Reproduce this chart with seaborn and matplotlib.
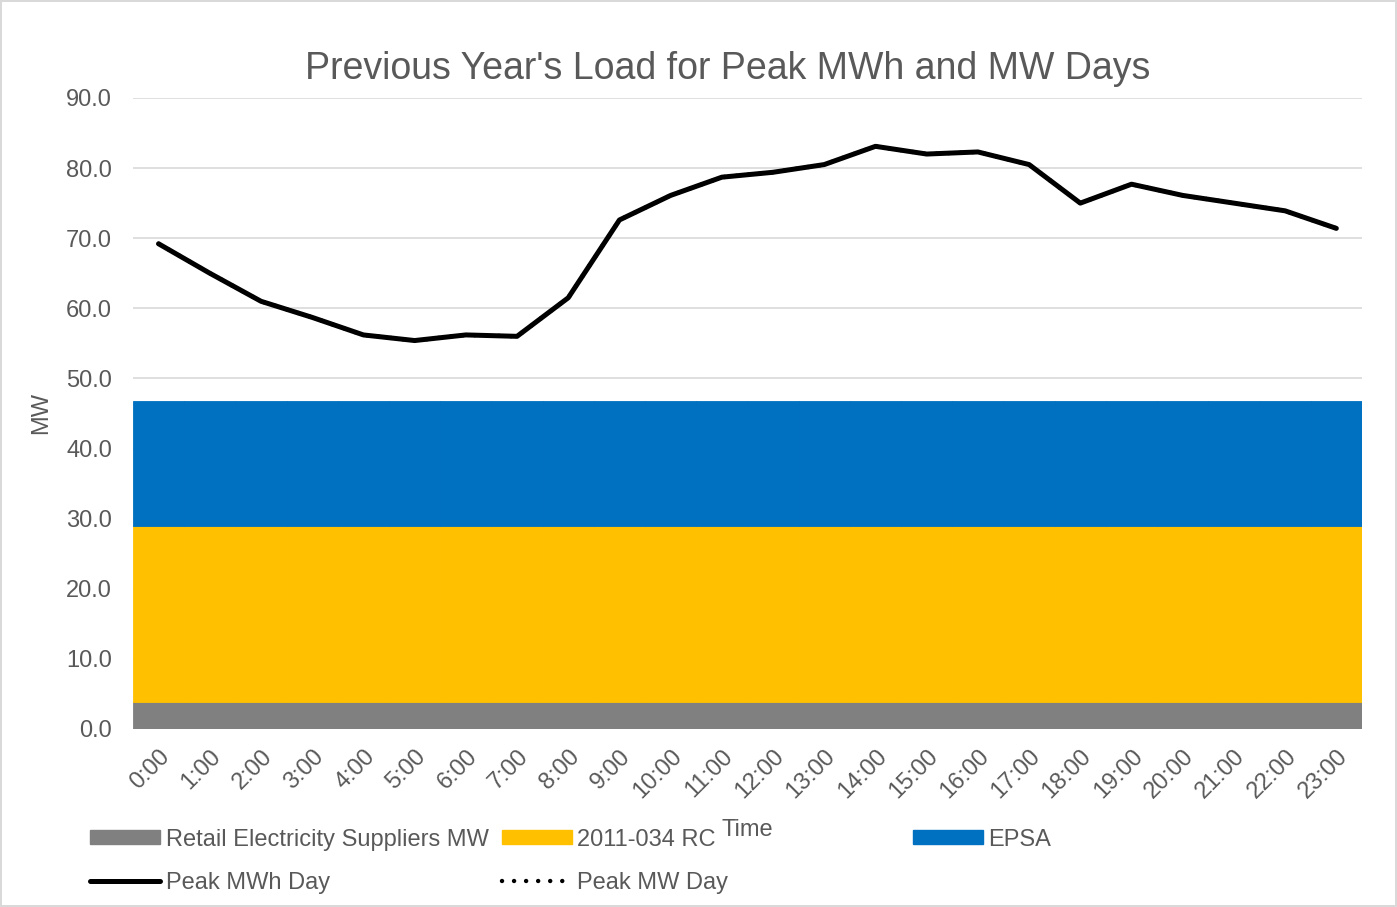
import numpy as np
import pandas as pd
import matplotlib
matplotlib.use("Agg")
import matplotlib.pyplot as plt
import seaborn as sns
from matplotlib.lines import Line2D
from matplotlib.patches import Patch

# dados
hours = [f"{h}:00" for h in range(24)]
retail_mw = [3.9] * 24
rc_2011_034 = [25.0] * 24
epsa = [17.9] * 24
peak_mwh_day = [69.2, 65.0, 61.0, 58.7, 56.2, 55.4, 56.2, 56.0, 61.5, 72.6, 76.1, 78.7,
                79.4, 80.5, 83.1, 82.0, 82.3, 80.5, 75.0, 77.7, 76.1, 75.0, 73.9, 71.4]
peak_mw_day = [69.2, 65.0, 61.0, 58.7, 56.2, 55.4, 56.2, 56.0, 61.5, 72.6, 76.1, 78.7,
               79.4, 80.5, 83.1, 82.0, 82.3, 80.5, 75.0, 77.7, 76.1, 75.0, 73.9, 71.4]

c_gray = "#808080"
c_yellow = "#FFC000"
c_blue = "#0070C0"
c_text = "#595959"
dots = (0, (0.01, 2.7))

sns.set_theme(style="white")
plt.rcParams['font.family'] = ['Liberation Sans', 'DejaVu Sans']

df = pd.DataFrame({"x": np.arange(24), "hora": hours, "retail": retail_mw,
                   "rc": rc_2011_034, "epsa": epsa,
                   "mwh": peak_mwh_day, "mw": peak_mw_day})

fig = plt.figure(figsize=(13.97, 9.07), dpi=100)
fig.patch.set_edgecolor("#d9d9d9")
fig.patch.set_linewidth(1.5)
ax = fig.add_axes([0.0952, 0.1963, 0.8797, 0.6957])

# áreas empilhadas (barras de largura 1 cobrindo cada categoria)
bottom = np.zeros(24)
for col, cor in [("retail", c_gray), ("rc", c_yellow), ("epsa", c_blue)]:
    ax.bar(df["x"], df[col], bottom=bottom, width=1.0, color=cor,
           edgecolor=cor, linewidth=0.6, zorder=2)
    bottom = bottom + df[col].values

sns.lineplot(data=df, x="x", y="mw", ax=ax, color="black", linewidth=3.2,
             linestyle=dots, dash_capstyle="round", zorder=3)
sns.lineplot(data=df, x="x", y="mwh", ax=ax, color="black", linewidth=3.6,
             zorder=4)

ax.set_xlim(-0.5, 23.5)
ax.set_ylim(0, 90)
ax.set_yticks(np.arange(0, 91, 10))
ax.set_yticklabels([f"{v:.1f}" for v in np.arange(0, 91, 10)])
ax.set_xticks(df["x"])
ax.set_xticklabels(hours, rotation=45, ha="right", rotation_mode="anchor")
ax.tick_params(axis="both", labelsize=17, colors=c_text, length=0)
ax.tick_params(axis="y", pad=15)
ax.tick_params(axis="x", pad=12)
ax.grid(axis="y", color="#d9d9d9", linewidth=1.2, zorder=0)
ax.set_axisbelow(True)
for s in ax.spines.values():
    s.set_visible(False)

ax.set_ylabel("MW", fontsize=17, color=c_text)
ax.yaxis.set_label_coords(-0.066, 0.5)
ax.set_xlabel("Time", fontsize=17, color=c_text)
ax.xaxis.set_label_coords(0.5, -0.142)
ax.set_title("Previous Year's Load for Peak MWh and MW Days", fontsize=27,
             color=c_text, pad=14, x=0.484)

# legenda em três colunas, como no Excel
h_retail = Patch(color=c_gray)
h_rc = Patch(color=c_yellow)
h_epsa = Patch(color=c_blue)
h_mwh = Line2D([], [], color="black", linewidth=3.6)
h_mw = Line2D([], [], color="black", linewidth=3.2, linestyle=dots,
              dash_capstyle="round")

leg_kw = dict(loc="upper left", frameon=False, fontsize=17, handlelength=2.95,
              handleheight=0.55, handletextpad=0.25, labelspacing=0.9,
              labelcolor=c_text, borderpad=0, borderaxespad=0)
fig.legend([h_retail, h_mwh], ["Retail Electricity Suppliers MW", "Peak MWh Day"],
           bbox_to_anchor=(0.0644, 0.0865), **leg_kw)
fig.legend([h_rc, h_mw], ["2011-034 RC", "Peak MW Day"],
           bbox_to_anchor=(0.3593, 0.0865), **leg_kw)
fig.legend([h_epsa], ["EPSA"], bbox_to_anchor=(0.6535, 0.0865), **leg_kw)

plt.savefig("out.png", dpi=100)
